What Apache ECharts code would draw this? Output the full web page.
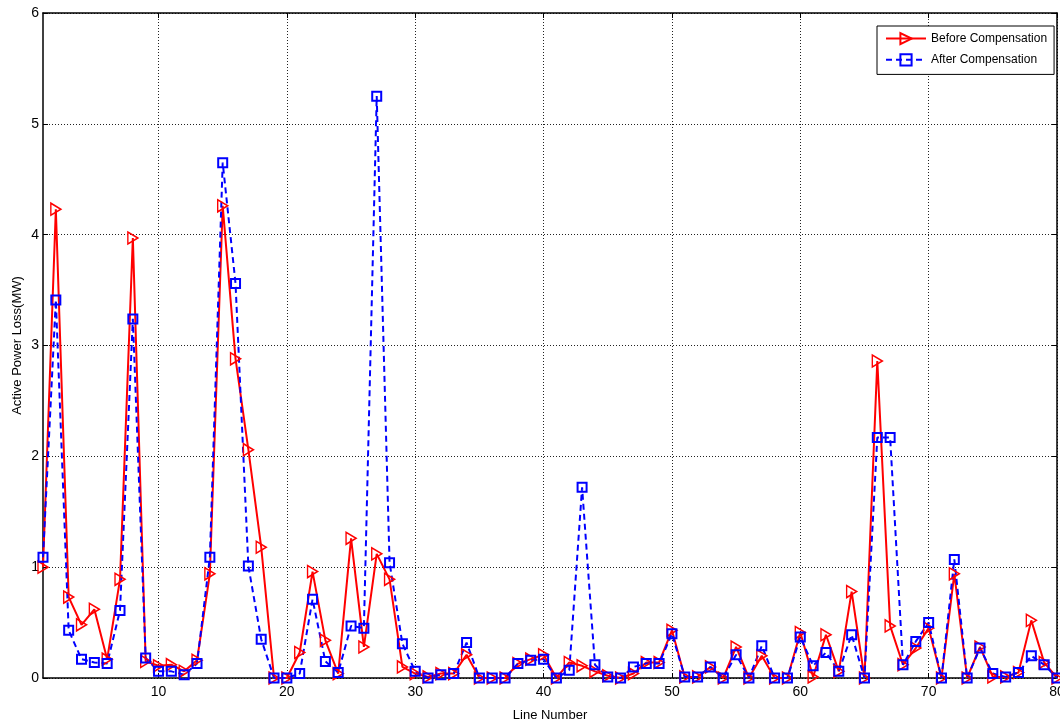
<!DOCTYPE html>
<html>
<head>
<meta charset="utf-8">
<script src="https://cdn.jsdelivr.net/npm/echarts@6/dist/echarts.min.js"></script>
<style>
html,body{margin:0;padding:0;background:#fff;}
#chart{width:1060px;height:722px;}
</style>
</head>
<body>
<div id="chart"></div>
<script>
const lineNumbers = Array.from({length: 80}, (_, i) => i + 1);
const beforeComp = [
  1.00, 4.23, 0.73, 0.48, 0.62, 0.17, 0.89, 3.97, 0.15, 0.11,
  0.12, 0.06, 0.16, 0.94, 4.26, 2.88, 2.06, 1.18, 0.00, 0.00,
  0.23, 0.96, 0.34, 0.04, 1.26, 0.28, 1.12, 0.89, 0.10, 0.04,
  0.01, 0.04, 0.04, 0.21, 0.00, 0.00, 0.00, 0.13, 0.17, 0.21,
  0.00, 0.14, 0.11, 0.06, 0.02, 0.00, 0.04, 0.14, 0.14, 0.43,
  0.01, 0.01, 0.10, 0.00, 0.28, 0.00, 0.20, 0.00, 0.00, 0.41,
  0.01, 0.39, 0.06, 0.78, 0.00, 2.86, 0.47, 0.12, 0.27, 0.45,
  0.00, 0.94, 0.00, 0.28, 0.01, 0.01, 0.05, 0.52, 0.14, 0.00
];
const afterComp = [
  1.09, 3.41, 0.43, 0.17, 0.14, 0.13, 0.61, 3.24, 0.18, 0.06,
  0.06, 0.03, 0.13, 1.09, 4.65, 3.56, 1.01, 0.35, 0.00, 0.00,
  0.04, 0.71, 0.15, 0.05, 0.47, 0.45, 5.25, 1.04, 0.31, 0.06,
  0.00, 0.03, 0.04, 0.32, 0.00, 0.00, 0.00, 0.13, 0.16, 0.17,
  0.00, 0.07, 1.72, 0.12, 0.01, 0.00, 0.10, 0.13, 0.13, 0.40,
  0.01, 0.01, 0.10, 0.00, 0.21, 0.00, 0.29, 0.00, 0.00, 0.37,
  0.11, 0.23, 0.06, 0.39, 0.00, 2.17, 2.17, 0.12, 0.33, 0.50,
  0.00, 1.07, 0.00, 0.27, 0.04, 0.01, 0.05, 0.20, 0.12, 0.00
];
const seriesNames = ['Before Compensation', 'After Compensation'];
const xTicks = [10, 20, 30, 40, 50, 60, 70, 80];
const yTicks = [0, 1, 2, 3, 4, 5, 6];

const RED = '#ff0000', BLUE = '#0000ff';
const FONT = 'Liberation Sans, Arial, sans-serif';

const chart = echarts.init(document.getElementById('chart'), null, {renderer: 'canvas'});
const pairs = (ys) => lineNumbers.map((x, i) => [x, ys[i]]);
const gridLine = {show: true, lineStyle: {color: '#222', type: [1, 2], width: 1}};

const baseX = {
  type: 'value', min: 1, max: 80,
  axisLine: {show: true, onZero: false, lineStyle: {color: '#000', width: 1.5}},
  axisTick: {show: true, inside: true, length: 5, customValues: xTicks, lineStyle: {color: '#000'}},
  splitLine: {show: false}
};
const baseY = {
  type: 'value', min: yTicks[0], max: yTicks[yTicks.length - 1], interval: 1,
  axisLine: {show: true, onZero: false, lineStyle: {color: '#000', width: 1.5}},
  axisTick: {show: true, inside: true, length: 5, lineStyle: {color: '#000'}},
  splitLine: {show: false}
};

chart.setOption({
  animation: false,
  backgroundColor: '#fff',
  textStyle: {fontFamily: FONT},
  grid: {left: 43, right: 3, top: 13, bottom: 44, containLabel: false, outerBoundsMode: 'none'},
  legend: {
    orient: 'vertical', left: 877, top: 26,
    data: seriesNames,
    itemWidth: 40, itemHeight: 14, itemGap: 8,
    padding: [6, 7, 8, 8],
    borderColor: '#000', borderWidth: 1, backgroundColor: '#fff',
    textStyle: {fontFamily: FONT, fontSize: 12, color: '#000'}
  },
  xAxis: [
    Object.assign({}, baseX, {
      position: 'bottom',
      name: 'Line Number', nameLocation: 'middle', nameGap: 31, nameMoveOverlap: false,
      nameTextStyle: {fontFamily: FONT, fontSize: 13, color: '#000'},
      axisLabel: {show: true, margin: 7, fontFamily: FONT, fontSize: 14, color: '#000',
        customValues: xTicks, hideOverlap: false},
      splitLine: Object.assign({customValues: xTicks}, gridLine)
    }),
    Object.assign({}, baseX, {position: 'top', axisLabel: {show: false}})
  ],
  yAxis: [
    Object.assign({}, baseY, {
      position: 'left',
      name: 'Active Power Loss(MW)', nameLocation: 'middle', nameGap: 19, nameMoveOverlap: false,
      nameTextStyle: {fontFamily: FONT, fontSize: 13, color: '#000'},
      axisLabel: {show: true, margin: 4, fontFamily: FONT, fontSize: 14, color: '#000'},
      splitLine: gridLine
    }),
    Object.assign({}, baseY, {position: 'right', axisLabel: {show: false}})
  ],
  series: [
    {
      name: seriesNames[0], type: 'line', xAxisIndex: 0, yAxisIndex: 0,
      data: pairs(beforeComp),
      symbol: 'triangle', symbolRotate: -90, symbolSize: [12, 10],
      showAllSymbol: true, clip: false,
      lineStyle: {color: RED, width: 2},
      itemStyle: {color: 'rgba(255,255,255,0)', borderColor: RED, borderWidth: 1.5},
      emphasis: {disabled: true}
    },
    {
      name: seriesNames[1], type: 'line', xAxisIndex: 0, yAxisIndex: 0,
      data: pairs(afterComp),
      symbol: 'rect', symbolSize: 9,
      showAllSymbol: true, clip: false,
      lineStyle: {color: BLUE, width: 2, type: [6, 4]},
      itemStyle: {color: 'rgba(255,255,255,0)', borderColor: BLUE, borderWidth: 2},
      emphasis: {disabled: true}
    }
  ]
});
</script>
</body>
</html>
